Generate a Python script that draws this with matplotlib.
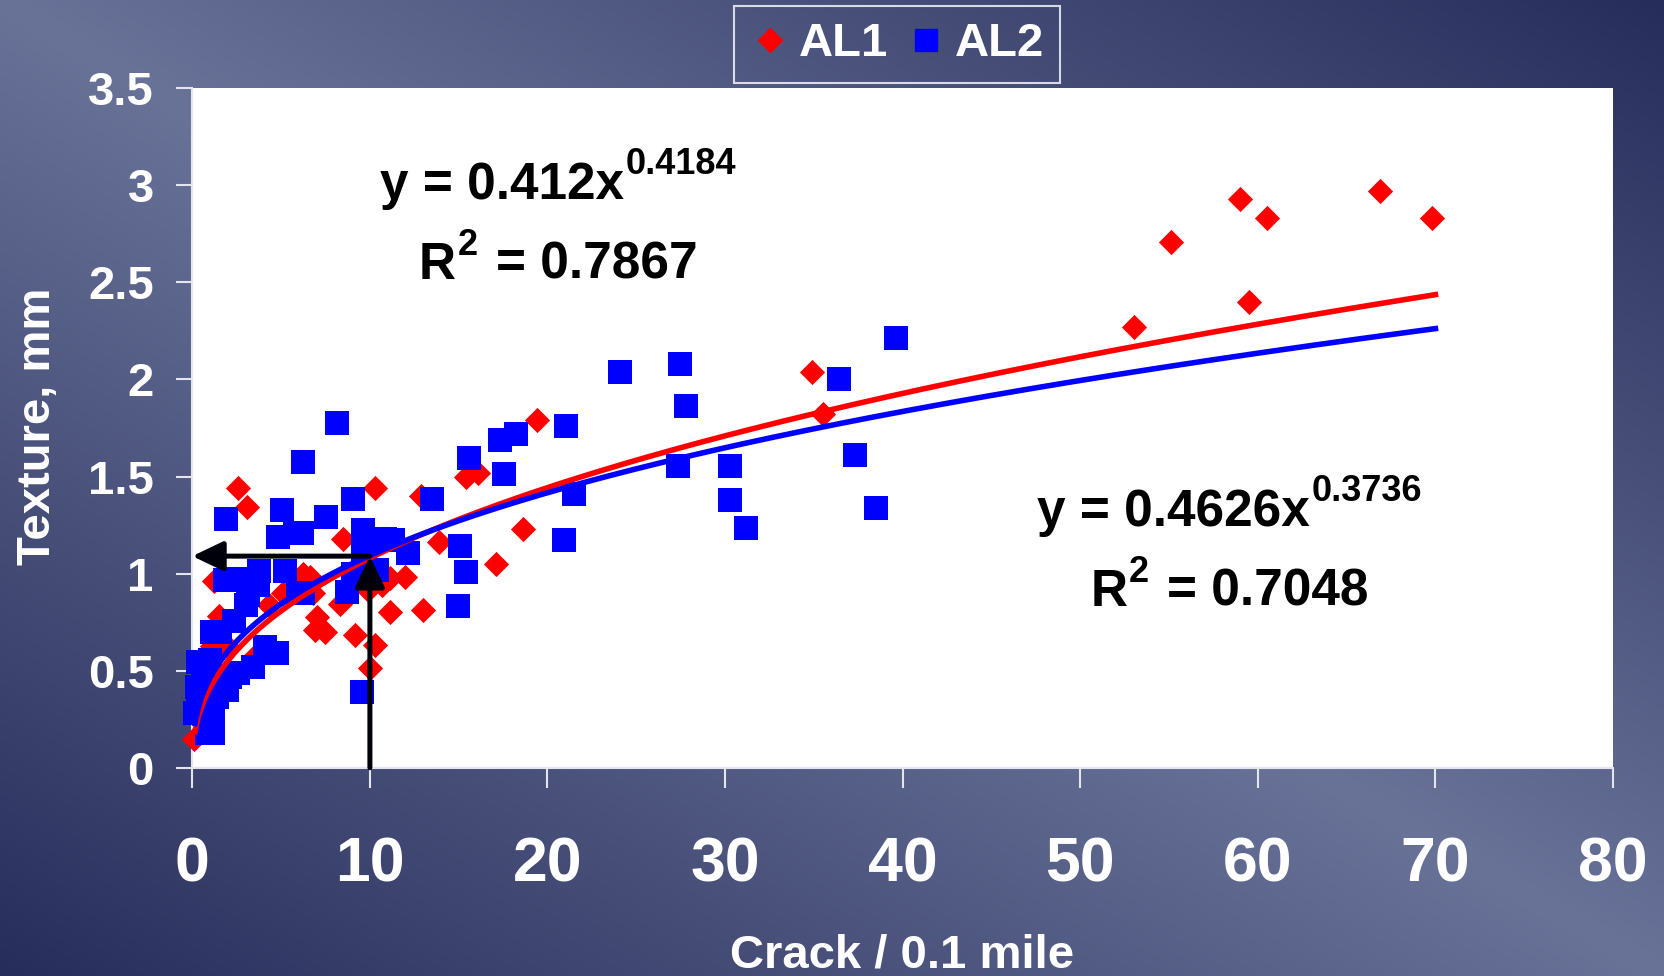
import numpy as np
import matplotlib.pyplot as plt
from matplotlib.lines import Line2D
from matplotlib.ticker import FuncFormatter
from matplotlib.transforms import offset_copy

plt.rcParams['font.family'] = ['Liberation Sans', 'DejaVu Sans']
plt.rcParams['font.weight'] = 'bold'

# AL1 section: cracks per 0.1 mile vs texture depth (mm)
al1_crack = [69.8, 66.9, 59.0, 60.5, 55.1, 59.5, 53.0, 34.9, 35.5, 19.4,
             18.6, 17.1, 15.4, 16.1, 13.9, 12.9, 13.0, 12.0, 11.15, 10.3,
             10.3, 10.0, 9.15, 8.5, 8.3, 7.0, 7.47, 6.9, 6.63, 6.25,
             6.8, 9.9, 10.7, 11.15, 5.1, 2.59, 3.06, 1.2, 1.1, 0.12,
             4.3, 3.5, 0.6, 2.0, 1.5]
al1_texture = [2.83, 2.97, 2.93, 2.83, 2.71, 2.40, 2.27, 2.04, 1.82, 1.79,
               1.23, 1.05, 1.50, 1.52, 1.165, 1.40, 0.81, 0.985, 0.80, 1.44,
               0.632, 0.512, 0.684, 1.18, 0.845, 0.778, 0.70, 0.71, 0.984, 1.0,
               0.90, 0.915, 0.94, 0.976, 0.90, 1.44, 1.345, 0.96, 0.625, 0.15,
               0.84, 0.57, 0.35, 0.62, 0.78]

# AL2 section
al2_crack = [39.6, 36.4, 37.3, 38.5, 27.44, 27.8, 27.37, 30.3, 30.3, 31.2,
             24.1, 21.04, 21.5, 20.95, 17.55, 17.33, 18.23, 15.6, 15.07, 15.41,
             14.98, 13.48, 12.16, 10.85, 11.32, 9.63, 9.63, 10.38, 9.07, 8.69,
             9.07, 8.17, 7.53, 6.25, 6.16, 6.25, 9.54,
             1.88, 5.03, 4.84, 5.78, 1.84, 2.4, 3.78, 5.22, 5.95,
             3.15, 3.68, 3.0, 2.35, 1.09, 1.56, 4.1, 4.75, 3.43, 2.55,
             0.34, 1.0, 1.74, 1.94, 0.25, 0.15, 1.18, 1.18, 0.81, 1.37,
             2.12, 0.3, 0.6]
al2_texture = [2.215, 2.0, 1.61, 1.34, 2.08, 1.865, 1.554, 1.554, 1.379, 1.233,
               2.04, 1.762, 1.41, 1.173, 1.513, 1.688, 1.72, 1.594, 1.142, 1.01,
               0.833, 1.383, 1.105, 1.18, 1.173, 1.225, 1.105, 1.018, 1.0, 0.907,
               1.383, 1.774, 1.29, 1.577, 1.208, 0.898, 0.392,
               1.28, 1.328, 1.19, 1.208, 0.967, 0.974, 1.015, 1.015, 0.90,
               0.89, 0.94, 0.84, 0.755, 0.70, 0.70, 0.62, 0.59, 0.52, 0.49,
               0.546, 0.555, 0.435, 0.40, 0.417, 0.28, 0.246, 0.177, 0.177, 0.366,
               0.469, 0.35, 0.48]

# power trendlines y = a * x^b
al1_a, al1_b, al1_r2 = 0.412, 0.4184, 0.7867
al2_a, al2_b, al2_r2 = 0.4626, 0.3736, 0.7048

# reading of texture at crack = 10
read_crack = 10
read_texture = 1.09

x_ticks = [0, 10, 20, 30, 40, 50, 60, 70, 80]
y_ticks = [0, 0.5, 1, 1.5, 2, 2.5, 3, 3.5]

fig = plt.figure(figsize=(16.65, 9.76), dpi=100)

# diagonal slate-blue backdrop
bg = fig.add_axes([0, 0, 1, 1], zorder=-10)
u, v = np.meshgrid(np.linspace(0, 1, 400), np.linspace(0, 1, 300))
t = np.abs(u - v)
light = np.array([0x69, 0x73, 0x98]) / 255
dark = np.array([0x27, 0x2d, 0x5b]) / 255
img = light[None, None, :] * (1 - t[..., None]) + dark[None, None, :] * t[..., None]
bg.imshow(img, aspect='auto', extent=[0, 1, 0, 1], origin='upper')
bg.set_axis_off()

ax = fig.add_axes([0.1155, 0.2134, 0.8533, 0.6961])
ax.set_facecolor('white')

ax.scatter(al1_crack, al1_texture, marker='D', s=165, color='#ff0000',
           linewidths=0, zorder=3, clip_on=False)
ax.scatter(al2_crack, al2_texture, marker='s', s=300, color='#0000ff',
           linewidths=0, zorder=4, clip_on=False)

xs = np.linspace(0.15, 70, 400)
ax.plot(xs, al1_a * xs ** al1_b, color='#ff0000', lw=4, zorder=5)
ax.plot(xs, al2_a * xs ** al2_b, color='#0000ff', lw=4, zorder=6)

arrow = dict(arrowstyle='-|>,head_length=0.94,head_width=0.45', mutation_scale=20,
             color='#00000a', lw=3.6, shrinkA=0, shrinkB=0)
ax.annotate('', xy=(0, read_texture), xytext=(read_crack, read_texture),
            arrowprops=arrow, zorder=7, annotation_clip=False)
ax.annotate('', xy=(read_crack, read_texture), xytext=(read_crack, 0),
            arrowprops=arrow, zorder=7, annotation_clip=False)


def put_runs(x, y, runs):
    # runs of (text, size, rise, gap) in points, laid out left to right and centred on x
    renderer = fig.canvas.get_renderer()
    placed = []
    pos = 0.0
    for s, size, rise, gap in runs:
        txt = ax.text(x, y, s, fontsize=size, fontweight='bold', color='black',
                      ha='left', va='baseline', zorder=8)
        w = txt.get_window_extent(renderer).width * 72 / fig.dpi
        pos += gap
        placed.append((txt, pos, rise))
        pos += w
    for txt, off, rise in placed:
        txt.set_transform(offset_copy(ax.transData, fig=fig, x=off - pos / 2,
                                      y=rise, units='points'))


base, sup = 37, 26
put_runs(20.6, 2.93, [('y = %gx' % al1_a, base, 0, 0), ('%g' % al1_b, sup, 18, 1)])
put_runs(20.6, 2.52, [('R', base, 0, 0), ('2', sup, 17, 1), ('= %.4f' % al1_r2, base, 0, 13)])
put_runs(58.4, 1.245, [('y = %gx' % al2_a, base, 0, 0), ('%g' % al2_b, sup, 18, 1)])
put_runs(58.4, 0.835, [('R', base, 0, 0), ('2', sup, 17, 1), ('= %.4f' % al2_r2, base, 0, 13)])

ax.set_xlim(0, 80)
ax.set_ylim(0, 3.5)
ax.set_xticks(x_ticks)
ax.set_yticks(y_ticks)
ax.yaxis.set_major_formatter(FuncFormatter(lambda val, pos: '%g' % val))
for side in ['top', 'right']:
    ax.spines[side].set_visible(False)
for side in ['left', 'bottom']:
    ax.spines[side].set_color('#e4e6ef')
    ax.spines[side].set_linewidth(1.5)
ax.tick_params(axis='x', colors='#e4e6ef', labelcolor='white', length=14.5,
               width=1.5, pad=34, labelsize=45)
ax.tick_params(axis='y', colors='#e4e6ef', labelcolor='white', length=11.7,
               width=1.5, pad=16, labelsize=34)
for lab in ax.get_xticklabels() + ax.get_yticklabels():
    lab.set_fontweight('bold')

fig.text(0.5417, 0.0082, 'Crack / 0.1 mile', ha='center', va='baseline',
         fontsize=34, color='white', fontweight='bold')
fig.text(50 / 1665, 0.5635, 'Texture, mm', ha='center', va='baseline',
         rotation=90, rotation_mode='anchor', fontsize=34, color='white',
         fontweight='bold')

handles = [Line2D([], [], marker='D', ls='none', color='#ff0000', markersize=12.7),
           Line2D([], [], marker='s', ls='none', color='#0000ff', markersize=16.5)]
leg = fig.legend(handles, ['AL1', 'AL2'], loc='upper center',
                 bbox_to_anchor=(0.539, 0.994), ncol=2, fontsize=34,
                 frameon=True, fancybox=False, borderpad=0.35, borderaxespad=0,
                 handlelength=0.8, handletextpad=0.21, columnspacing=0.4)
leg.get_frame().set_facecolor('none')
leg.get_frame().set_edgecolor('white')
leg.get_frame().set_linewidth(1.5)
for txt in leg.get_texts():
    txt.set_color('white')
    txt.set_fontweight('bold')

fig.savefig('out.png', dpi=100)
